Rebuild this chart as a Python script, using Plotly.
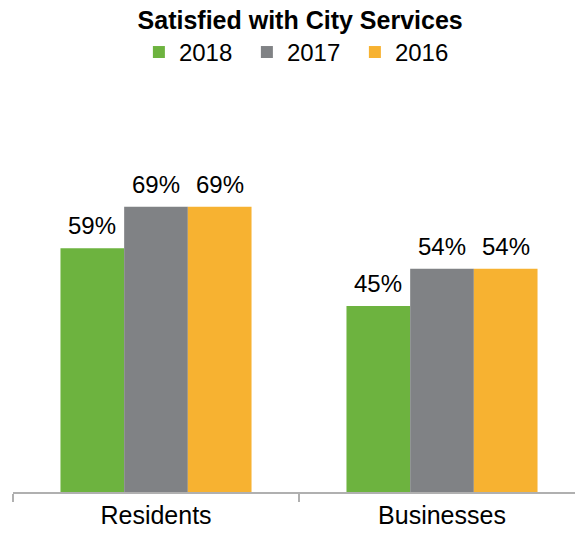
import plotly.graph_objects as go

categories = ["Residents", "Businesses"]
years = ["2018", "2017", "2016"]
values = {
    "2018": [59, 45],
    "2017": [69, 54],
    "2016": [69, 54],
}
colors = {"2018": "#6db33f", "2017": "#808285", "2016": "#f7b231"}

FONT = "Liberation Sans, Arial, sans-serif"

W, H = 575, 535
M_L, M_R, M_T, M_B = 13, 0, 120, 43
X_RANGE = [-0.5, 1.465]
BARGAP = 0.332

fig = go.Figure()
for y in years:
    fig.add_trace(go.Bar(
        name=y,
        x=categories,
        y=values[y],
        marker=dict(color=colors[y], line=dict(width=0)),
    ))

# value labels above each bar, offset horizontally to sit over its bar in the group
cat_px = (W - M_L - M_R) / (X_RANGE[1] - X_RANGE[0])
bar_px = cat_px * (1 - BARGAP) / len(years)
for i, y in enumerate(years):
    shift = (i - (len(years) - 1) / 2) * bar_px
    for c, v in zip(categories, values[y]):
        fig.add_annotation(
            x=c, y=v, xref="x", yref="y",
            text=f"{v}%", showarrow=False,
            xanchor="center", yanchor="bottom",
            xshift=shift, yshift=7,
            font=dict(family=FONT, size=24, color="#000000"),
        )

fig.update_layout(
    width=W,
    height=H,
    barmode="group",
    bargap=BARGAP,
    bargroupgap=0,
    plot_bgcolor="white",
    paper_bgcolor="white",
    margin=dict(l=M_L, r=M_R, t=M_T, b=M_B),
    title=dict(
        text="<b>Satisfied with City Services</b>",
        x=0.522, xanchor="center", y=0.963, yanchor="middle",
        font=dict(family=FONT, size=25, color="#000000"),
    ),
    legend=dict(
        orientation="h",
        x=0.224, xanchor="left", y=0.902, yref="container", yanchor="middle",
        font=dict(family=FONT, size=24, color="#000000"),
        traceorder="normal",
        itemwidth=30,
        entrywidth=63,
    ),
    showlegend=True,
)

fig.update_xaxes(
    range=X_RANGE,
    tickson="boundaries",
    ticks="outside",
    ticklen=8,
    tickwidth=2,
    tickcolor="#b0b0b0",
    showline=True,
    linecolor="#b0b0b0",
    linewidth=2,
    tickfont=dict(family=FONT, size=25, color="#000000"),
    showgrid=False,
)
fig.update_yaxes(
    range=[0, 90],
    visible=False,
    showgrid=False,
)

fig.write_html("out.html")
